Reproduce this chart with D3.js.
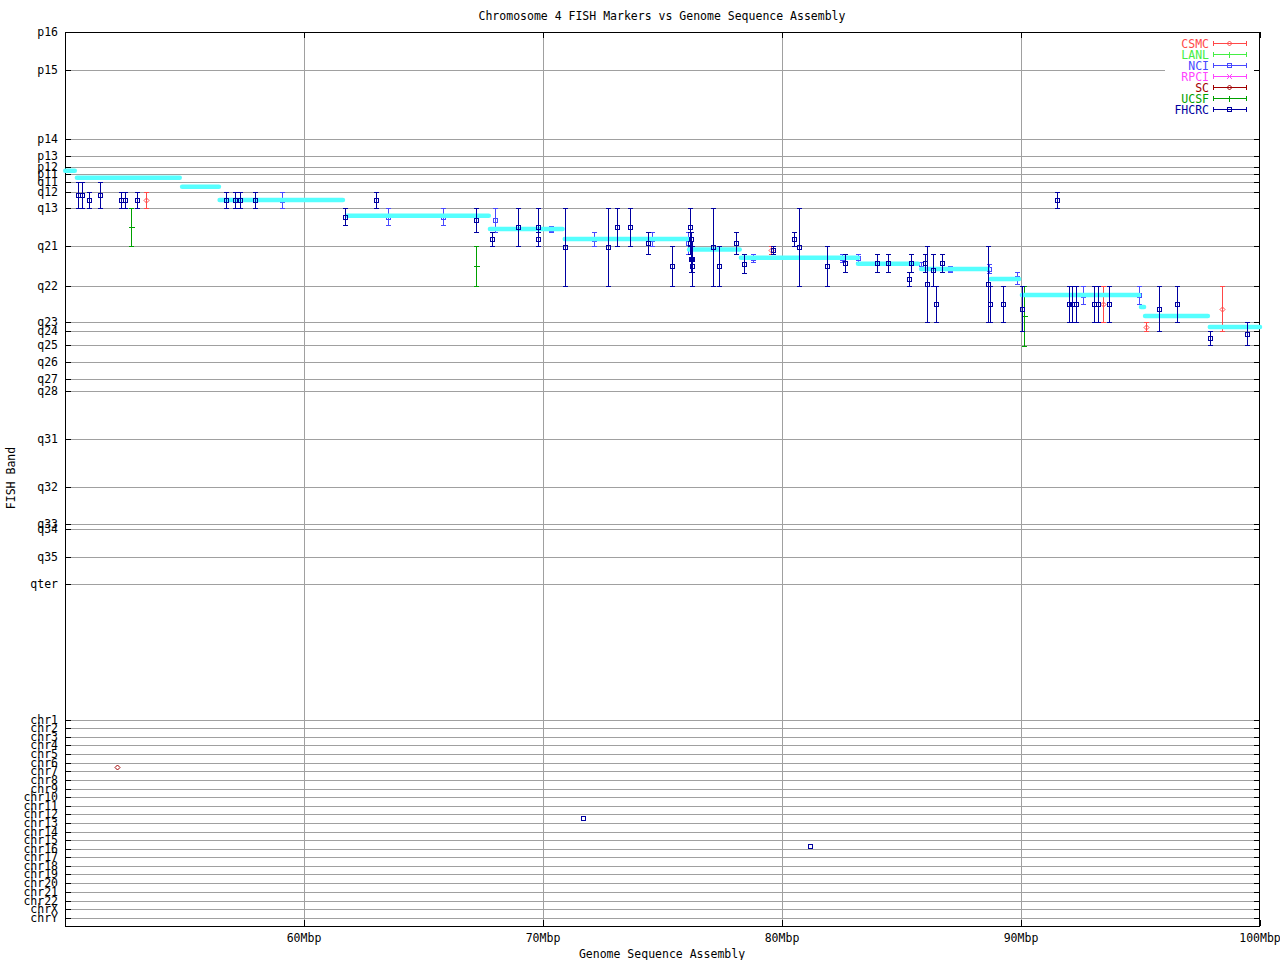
<!DOCTYPE html>
<html><head><meta charset="utf-8">
<script src="https://cdn.jsdelivr.net/npm/d3@7"></script>
<style>
body{margin:0;background:#fff}
text{font-family:"DejaVu Sans Mono","Liberation Mono",monospace;font-size:11.5px;fill:#000}
</style>
</head><body>
<svg id="c" width="1280" height="960"></svg>
<script>
// ---------- axis data ----------
const titleText = "Chromosome 4 FISH Markers vs Genome Sequence Assembly";
const xTitle = "Genome Sequence Assembly";
const yTitle = "FISH Band";
const xTicks = [60, 70, 80, 90, 100];
const xTickLabels = ["60Mbp", "70Mbp", "80Mbp", "90Mbp", "100Mbp"];
// band positions (arbitrary cytogenetic units, p-ter at 0)
const bandLabels = ["p16","p15","p14","p13","p12","p11","q11","q12","q13","q21","q22","q23","q24","q25","q26","q27","q28","q31","q32","q33","q34","q35","qter"];
const bandPos = [0,38,107,124.3,135,142.3,150.3,160.3,176.3,214.3,254.3,290.3,299.3,313.3,330.3,347.3,358.7,407.3,454.7,492.3,497,524.7,551.7];
const chrLabels = ["chr1","chr2","chr3","chr4","chr5","chr6","chr7","chr8","chr9","chr10","chr11","chr12","chr13","chr14","chr15","chr16","chr17","chr18","chr19","chr20","chr21","chr22","chrX","chrY"];
const chrPos = [688.3,696.3,704.7,713.3,722.0,731.3,739.3,748.3,756.7,765.3,774.3,782.3,791.3,799.7,808.3,817.3,825.0,834.0,842.3,851.3,860.3,868.7,877.3,885.7];

// ---------- marker data: [Mbp, band range from, band range to] ----------
const csmc = [[53.40,160.3,176.3],[79.56,214.3,222.3],[93.42,254.3,290.3],[95.24,290.3,299.3],[98.42,254.3,299.3]];
const lanl = [];
const nci = [[59.09,160.3,176.3],[63.53,176.3,193.0],[65.83,176.3,193.0],[68.00,176.3,200.3],[70.35,193.7,200.3],
  [72.15,200.3,214.3],[74.57,200.3,214.3],[76.08,200.3,222.3],[78.80,222.3,229.7],[82.50,222.3,229.7],
  [83.19,222.3,229.7],[85.82,230.3,233.7],[87.04,233.7,240.3],[88.65,232.0,241.0],[89.85,240.3,252.3],
  [92.61,254.3,272.3],[94.95,254.3,272.3]];
const rpci = [];
const sc = [[52.19,735.3,735.3]];
const ucsf = [[52.76,176.3,214.3],[67.21,214.3,254.3],[90.14,254.3,313.7]];
const fhcrc = [[50.54,150.3,176.3],[50.71,150.3,176.3],[51.02,160.3,176.3],[51.48,150.3,176.3],[52.33,160.3,176.3],
  [52.50,160.3,176.3],[53.03,160.3,176.3],[56.75,160.3,176.3],[57.13,160.3,176.3],[57.32,160.3,176.3],
  [57.96,160.3,176.3],[61.73,176.3,193.0],[63.03,160.3,176.3],[67.21,176.3,200.3],[67.85,200.3,214.3],
  [68.97,176.3,214.3],[69.78,176.3,214.3],[69.80,200.3,214.3],[70.93,176.3,254.3],[72.73,176.3,254.3],
  [73.11,176.3,214.3],[73.65,176.3,214.3],[74.41,200.3,222.3],[75.41,214.3,254.3],[76.13,176.3,214.3],
  [76.15,200.3,222.3],[76.19,200.3,214.3],[76.21,214.3,240.3],[76.23,214.3,240.3],[76.25,214.3,254.3],
  [77.13,176.3,254.3],[77.38,214.3,254.3],[78.09,200.3,222.3],[78.42,222.3,240.7],[79.64,214.3,222.3],
  [80.51,200.3,214.3],[80.72,176.3,254.3],[81.90,214.3,254.3],[82.65,222.3,240.3],[83.99,222.3,240.3],
  [84.45,222.3,240.3],[85.33,240.3,254.3],[85.41,222.3,240.3],[86.00,222.3,240.3],[86.08,214.3,290.3],
  [86.33,222.3,254.3],[86.46,254.3,290.3],[86.71,222.3,240.3],[88.63,214.3,290.3],[88.70,254.3,290.3],
  [89.26,254.3,290.3],[90.05,254.3,299.3],[91.52,160.3,176.3],[92.02,254.3,290.3],[92.15,254.3,290.3],
  [92.31,254.3,290.3],[93.07,254.3,290.3],[93.23,254.3,290.3],[93.69,254.3,290.3],[95.79,254.3,299.3],
  [96.54,254.3,290.3],[97.92,299.3,313.3],[99.47,290.3,313.3],[71.67,786.3,786.3],[81.17,814.0,814.0]];

// ---------- assembly band segments: [start Mbp, end Mbp, band position] ----------
const assembly = [[50.01,50.41,138.7],[50.50,54.80,145.7],[54.90,56.44,154.7],[56.47,61.63,168.0],
  [61.80,67.73,183.7],[67.78,70.82,197.0],[70.91,76.07,207.0],[76.11,78.23,217.5],[78.28,83.18,225.7],
  [83.18,85.69,231.7],[85.82,88.62,237.0],[88.74,89.92,247.0],[90.04,94.94,263.0],[95.02,95.15,275.0],
  [95.19,97.82,284.0],[97.90,100.0,295.0]];

const seriesNames = ["CSMC","LANL","NCI","RPCI","SC","UCSF","FHCRC"];
const seriesData = [csmc, lanl, nci, rpci, sc, ucsf, fhcrc];
const seriesColors = ["#ff4848","#44ee44","#4848ff","#ff44ff","#a00000","#00a000","#0000a0"];
const seriesSymbols = ["diamond","plus","square","cross","diamond","plus","square"];
const assemblyColor = "#55ffff";

// ---------- chart ----------
const L = 65, R = 1260, T = 32, B = 926;
const svg = d3.select("#c");
const x = d3.scaleLinear().domain([50, 100]).range([L, R]);
const y = d3.scaleLinear().domain([0, 894]).range([T, B]);
const cx = v => Math.round(x(v)) + 0.5;
const cy = v => Math.round(y(v)) + 0.5;
const grid = "#a0a0a0";

const g = svg.append("g").attr("shape-rendering", "crispEdges");

// horizontal gridlines with ticks
const yTickVals = bandPos.concat(chrPos);
const yTickLabs = bandLabels.concat(chrLabels);
yTickVals.forEach(v => {
  const yy = cy(v);
  g.append("line").attr("x1", L).attr("x2", R).attr("y1", yy).attr("y2", yy).attr("stroke", grid);
  g.append("line").attr("x1", L).attr("x2", L + 6).attr("y1", yy).attr("y2", yy).attr("stroke", "#000");
  g.append("line").attr("x1", R - 6).attr("x2", R).attr("y1", yy).attr("y2", yy).attr("stroke", "#000");
});
// vertical gridlines
xTicks.forEach(v => {
  const xx = cx(v);
  if (v < 100) g.append("line").attr("x1", xx).attr("x2", xx).attr("y1", T).attr("y2", B).attr("stroke", grid);
  g.append("line").attr("x1", xx).attr("x2", xx).attr("y1", B - 6).attr("y2", B).attr("stroke", "#000");
  g.append("line").attr("x1", xx).attr("x2", xx).attr("y1", T).attr("y2", T + 6).attr("stroke", "#000");
});

// legend background (covers gridlines)
g.append("rect").attr("x", 1165).attr("y", 37).attr("width", 89).attr("height", 77).attr("fill", "#fff");

// frame
g.append("rect").attr("x", L + 0.5).attr("y", T + 0.5).attr("width", R - L - 1).attr("height", B - T)
  .attr("fill", "none").attr("stroke", "#000");

// tick labels
yTickVals.forEach((v, i) => {
  svg.append("text").attr("x", 58).attr("y", y(v)).attr("dy", "0.35em").attr("text-anchor", "end").text(yTickLabs[i]);
});
xTicks.forEach((v, i) => {
  svg.append("text").attr("x", x(v)).attr("y", 938).attr("dy", "0.35em").attr("text-anchor", "middle").text(xTickLabels[i]);
});
svg.append("text").attr("x", 662).attr("y", 16).attr("dy", "0.35em").attr("text-anchor", "middle").text(titleText);
svg.append("text").attr("x", 662).attr("y", 954).attr("dy", "0.35em").attr("text-anchor", "middle").text(xTitle);
svg.append("text").attr("transform", "translate(11,478) rotate(-90)").attr("dy", "0.35em").attr("text-anchor", "middle").text(yTitle);

// symbol drawing
function drawSymbol(sel, type, px, py, color) {
  if (type === "square") {
    sel.append("rect").attr("x", px - 2).attr("y", py - 2).attr("width", 4).attr("height", 4)
      .attr("fill", "none").attr("stroke", color);
  } else if (type === "diamond") {
    sel.append("path").attr("d", `M${px},${py-2.5}L${px+2.5},${py}L${px},${py+2.5}L${px-2.5},${py}Z`)
      .attr("fill", "none").attr("stroke", color).attr("shape-rendering", "auto");
  } else if (type === "plus") {
    sel.append("path").attr("d", `M${px-3},${py}H${px+3}M${px},${py-3}V${py+3}`).attr("stroke", color);
  } else if (type === "cross") {
    sel.append("path").attr("d", `M${px-2.5},${py-2.5}L${px+2.5},${py+2.5}M${px-2.5},${py+2.5}L${px+2.5},${py-2.5}`)
      .attr("stroke", color).attr("shape-rendering", "auto");
  }
}
function drawSeries(idx) {
  const color = seriesColors[idx], sym = seriesSymbols[idx];
  const sg = svg.append("g").attr("shape-rendering", "crispEdges");
  seriesData[idx].forEach(d => {
    const px = cx(d[0]);
    const y1 = cy(d[1]), y2 = cy(d[2]);
    const pm = Math.round(y((d[1] + d[2]) / 2)) + 0.5;
    if (y2 > y1) {
      sg.append("line").attr("x1", px).attr("x2", px).attr("y1", y1).attr("y2", y2).attr("stroke", color);
      sg.append("line").attr("x1", px - 2.5).attr("x2", px + 2.5).attr("y1", y1).attr("y2", y1).attr("stroke", color);
      sg.append("line").attr("x1", px - 2.5).attr("x2", px + 2.5).attr("y1", y2).attr("y2", y2).attr("stroke", color);
    }
    drawSymbol(sg, sym, px, pm, color);
  });
}
// plot order: other labs, assembly bands, FHCRC on top
for (let i = 0; i < 6; i++) drawSeries(i);
svg.append("g").selectAll("line").data(assembly).join("line")
  .attr("x1", d => x(d[0])).attr("x2", d => x(d[1]))
  .attr("y1", d => y(d[2])).attr("y2", d => y(d[2]))
  .attr("stroke", assemblyColor).attr("stroke-width", 4.5).attr("stroke-linecap", "round");
drawSeries(6);

// legend
seriesNames.forEach((name, i) => {
  const ly = Math.round(43 + i * 10.95) + 0.5;
  const color = seriesColors[i];
  svg.append("text").attr("x", 1209).attr("y", ly).attr("dy", "0.35em").attr("text-anchor", "end")
    .style("fill", color).text(name);
  const lg = svg.append("g").attr("shape-rendering", "crispEdges");
  lg.append("line").attr("x1", 1213).attr("x2", 1247).attr("y1", ly).attr("y2", ly).attr("stroke", color);
  lg.append("line").attr("x1", 1213.5).attr("x2", 1213.5).attr("y1", ly - 2.5).attr("y2", ly + 2.5).attr("stroke", color);
  lg.append("line").attr("x1", 1246.5).attr("x2", 1246.5).attr("y1", ly - 2.5).attr("y2", ly + 2.5).attr("stroke", color);
  drawSymbol(lg, seriesSymbols[i], 1229.5, ly, color);
});
</script>
</body></html>
